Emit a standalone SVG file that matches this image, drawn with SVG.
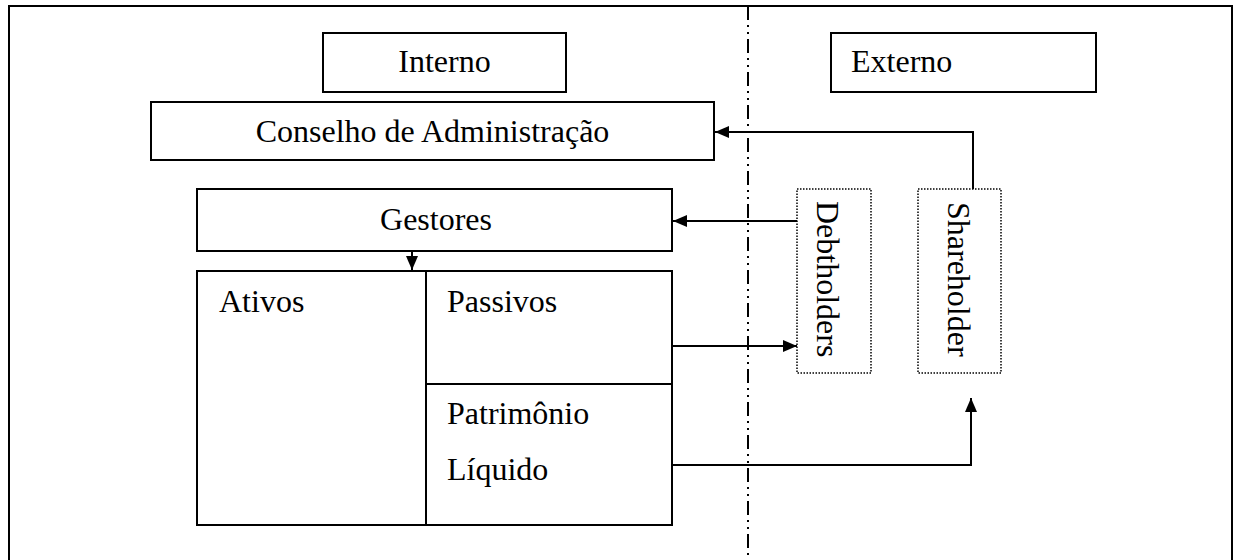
<svg xmlns="http://www.w3.org/2000/svg" width="1234" height="560" viewBox="0 0 1234 560">
<style>
.box{fill:#fff;stroke:#000;stroke-width:2}
.dot{fill:#fff;stroke:#000;stroke-width:1.5;stroke-dasharray:1.5 1.5}
.t{font-family:"Liberation Serif","Times New Roman",serif;font-size:32px;fill:#000}
.ln{fill:none;stroke:#000;stroke-width:2}
</style>
<defs>
<marker id="ah" viewBox="0 0 14 12" refX="14" refY="6" markerWidth="14" markerHeight="12" markerUnits="userSpaceOnUse" orient="auto">
<path d="M0,0 L14,6 L0,12 Z" fill="#000"/>
</marker>
</defs>
<rect x="0" y="0" width="1234" height="560" fill="#fff"/>
<g id="frame">
<path d="M9,570 V6 H1232 V570" class="ln"/>
<line x1="748" y1="6" x2="748" y2="560" stroke="#000" stroke-width="2" stroke-dasharray="14 5 2 5 2 5"/>
</g>
<g id="interno"><rect x="323" y="33" width="243" height="59" class="box"/><text x="444.5" y="72" class="t" text-anchor="middle">Interno</text></g>
<g id="externo"><rect x="831" y="33" width="265" height="59" class="box"/><text x="851" y="72" class="t">Externo</text></g>
<g id="conselho"><rect x="151" y="102" width="563" height="58" class="box"/><text x="432.5" y="142" class="t" text-anchor="middle">Conselho de Administração</text></g>
<g id="gestores"><rect x="197" y="189" width="475" height="62" class="box"/><text x="436" y="230" class="t" text-anchor="middle">Gestores</text></g>
<g id="ativos"><rect x="197" y="271" width="229" height="254" class="box"/><text x="219" y="312" class="t">Ativos</text></g>
<g id="passivos"><rect x="426" y="271" width="246" height="113" class="box"/><text x="447" y="312" class="t">Passivos</text></g>
<g id="patrimonio"><rect x="426" y="384" width="246" height="141" class="box"/><text x="447" y="424" class="t">Patrimônio</text><text x="447" y="480" class="t">Líquido</text></g>
<g id="debtholders"><rect x="797" y="189" width="74" height="184" class="dot"/><text transform="translate(817,201) rotate(90)" class="t">Debtholders</text></g>
<g id="shareholder"><rect x="918" y="189" width="83" height="184" class="dot"/><text transform="translate(948,202) rotate(90)" class="t">Shareholder</text></g>
<g id="connectors">
<path d="M973,189 V132 H715" class="ln" marker-end="url(#ah)"/>
<path d="M797,221 H673" class="ln" marker-end="url(#ah)"/>
<path d="M412,251 V270" class="ln" marker-end="url(#ah)"/>
<path d="M672,346 H797" class="ln" marker-end="url(#ah)"/>
<path d="M672,465 H971 V398" class="ln" marker-end="url(#ah)"/>
</g>
</svg>
